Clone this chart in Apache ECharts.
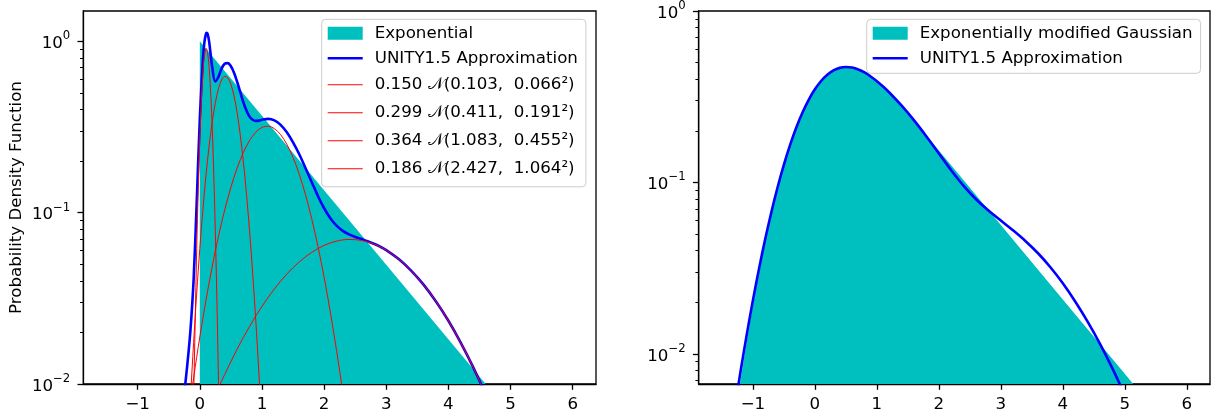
<!DOCTYPE html>
<html><head><meta charset="utf-8">
<script src="https://cdn.jsdelivr.net/npm/echarts@6/dist/echarts.min.js"></script>
<style>html,body{margin:0;padding:0;background:#fff}#c{width:1211px;height:413px}</style>
</head><body><div id="c"></div>
<script>
// ---------- tick labels ----------
const xTicks = [-1, 0, 1, 2, 3, 4, 5, 6];
const yMajorTicks = [0.01, 0.1, 1];
const yMinorLeft = [0.02,0.03,0.04,0.05,0.06,0.07,0.08,0.09,0.2,0.3,0.4,0.5,0.6,0.7,0.8,0.9];
const yMinorRight = [0.007,0.008,0.009,0.02,0.03,0.04,0.05,0.06,0.07,0.08,0.09,0.2,0.3,0.4,0.5,0.6,0.7,0.8,0.9];

// ---------- left panel ----------
const expX = [0, 4.6];
const expY = [1.0, 0.01];

const unityLX = [-0.3,-0.25,-0.2,-0.15,-0.1,-0.05,0,0.05,0.075,0.1,0.11,0.125,0.15,0.2,0.25,0.3,0.35,0.4,0.45,0.5,0.55,0.6,0.65,0.7,0.75,0.8,0.85,0.9,0.95,1.0,1.1,1.2,1.3,1.4,1.5,1.6,1.7,1.8,1.9,2.0,2.1,2.2,2.3,2.4,2.5,2.6,2.7,2.8,2.9,3.0,3.2,3.4,3.6,3.8,4.0,4.2,4.4,4.6,4.8];
const unityLY = [0.00637,0.00888,0.0131,0.0208,0.0405,0.115,0.354,0.791,0.995,1.109,1.121,1.103,0.995,0.703,0.582,0.620,0.692,0.738,0.745,0.714,0.655,0.580,0.506,0.441,0.394,0.363,0.348,0.343,0.344,0.348,0.352,0.345,0.325,0.294,0.257,0.219,0.182,0.151,0.125,0.106,0.0928,0.0839,0.0782,0.0746,0.0721,0.0701,0.0681,0.0658,0.0633,0.0604,0.0536,0.0459,0.0380,0.0303,0.0234,0.0174,0.0125,0.00867,0.0058];

const comp1X = [-0.12,-0.1,-0.05,-0.025,0,0.025,0.05,0.075,0.103,0.125,0.15,0.175,0.2,0.225,0.25,0.275,0.3,0.32];
const comp1Y = [0.00301,0.0080,0.0617,0.1383,0.2683,0.4510,0.6568,0.8287,0.9067,0.8577,0.7036,0.5001,0.3079,0.1643,0.0759,0.0304,0.01054,0.00408];

const comp2X = [-0.2,-0.15,-0.1,-0.05,0,0.05,0.1,0.15,0.2,0.25,0.3,0.35,0.4,0.45,0.5,0.55,0.6,0.65,0.7,0.75,0.8,0.85,0.9,0.95,1.0];
const comp2Y = [0.00375,0.00836,0.01743,0.03392,0.06167,0.1047,0.1659,0.2455,0.3392,0.4378,0.5275,0.5935,0.6235,0.6116,0.5603,0.4792,0.3828,0.2855,0.1988,0.1293,0.0785,0.0445,0.02356,0.01165,0.00538];

const comp3X = [-0.2,-0.1,0,0.1,0.2,0.3,0.4,0.5,0.6,0.7,0.8,0.9,1.0,1.1,1.2,1.3,1.4,1.5,1.6,1.7,1.8,1.9,2.0,2.1,2.2,2.3,2.4];
const comp3Y = [0.00599,0.01087,0.01879,0.03094,0.04855,0.07262,0.1035,0.1405,0.1817,0.2240,0.2631,0.2944,0.3139,0.3190,0.3088,0.2849,0.2504,0.2098,0.1674,0.1273,0.0922,0.0636,0.0419,0.02625,0.01568,0.00893,0.00484];

const comp4X = [0.2,0.3,0.4,0.6,0.8,1.0,1.2,1.4,1.6,1.8,2.0,2.2,2.4,2.6,2.8,3.0,3.2,3.4,3.6,3.8,4.0,4.2,4.4,4.6];
const comp4Y = [0.0078,0.00946,0.01136,0.01597,0.02167,0.02837,0.03587,0.04377,0.05156,0.05862,0.06434,0.06817,0.06972,0.06882,0.06558,0.06033,0.05356,0.04591,0.03798,0.03033,0.02338,0.0174,0.0125,0.00867];

// ---------- right panel ----------
const emgX = [-1.3,-1.2,-1.1,-1.0,-0.9,-0.8,-0.7,-0.6,-0.5,-0.4,-0.3,-0.2,-0.1,0,0.1,0.2,0.3,0.4,0.5,0.6,0.7,0.8,0.9,1.0,1.1,1.2,1.3,1.4,1.5,1.6,1.8,2.0,3.0,4.0,5.0,5.2];
const emgY = [0.00403,0.00702,0.01181,0.01913,0.0299,0.04506,0.06554,0.09201,0.1248,0.1636,0.2075,0.2547,0.3030,0.3496,0.3918,0.4269,0.4532,0.4693,0.4752,0.4714,0.4591,0.4401,0.4161,0.3890,0.3604,0.3315,0.3033,0.2764,0.2513,0.2280,0.1871,0.1533,0.05642,0.02075,0.00764,0.00625];

const unityRX = [-1.3,-1.2,-1.1,-1.0,-0.9,-0.8,-0.7,-0.6,-0.5,-0.4,-0.3,-0.2,-0.1,0,0.1,0.2,0.3,0.4,0.5,0.6,0.7,0.8,0.9,1.0,1.1,1.2,1.4,1.6,1.8,2.0,2.2,2.4,2.6,2.8,3.0,3.2,3.4,3.6,3.8,4.0,4.2,4.4,4.6,4.8,5.0];
const unityRY = [0.00467,0.00788,0.01291,0.02052,0.03158,0.04702,0.06771,0.09433,0.1271,0.1657,0.2092,0.2559,0.3034,0.3492,0.3904,0.4247,0.4502,0.4658,0.4714,0.4677,0.4559,0.4378,0.4151,0.3894,0.3623,0.3346,0.2803,0.2300,0.1853,0.1475,0.1177,0.0955,0.0798,0.0686,0.0599,0.0524,0.0454,0.0386,0.0320,0.0258,0.0202,0.0154,0.01144,0.00823,0.00576];

// ---------- labels ----------
const legendLeftNames = ['Exponential','UNITY1.5 Approximation',
  '0.150 \u{1D4A9}(0.103,  0.066\u00B2)','0.299 \u{1D4A9}(0.411,  0.191\u00B2)',
  '0.364 \u{1D4A9}(1.083,  0.455\u00B2)','0.186 \u{1D4A9}(2.427,  1.064\u00B2)'];
const legendRightNames = ['Exponentially modified Gaussian','UNITY1.5 Approximation'];
const yAxisTitle = 'Probability Density Function';

const FONT = 'DejaVu Sans';
const FS = 16.67;
const CYAN = '#00bfbf', BLUE = '#0000ff', RED = '#ff0000';
const ICON_BLUE = 'path://M0,0M35,13M0,5.2L35,5.2L35,7.8L0,7.8Z';
const ICON_RED = 'path://M0,0M35,13M0,6L35,6L35,7L0,7Z';
const zip = (xs, ys) => xs.map((x, i) => [x, ys[i]]);

function clipBelow(poly, b) {
  const out = [];
  for (let i = 0; i < poly.length; i++) {
    const p = poly[i], q = poly[(i + 1) % poly.length];
    const pin = p[1] <= b + 1e-6, qin = q[1] <= b + 1e-6;
    if (pin) out.push(p);
    if (pin !== qin) {
      const t = (b - p[1]) / (q[1] - p[1]);
      out.push([p[0] + t * (q[0] - p[0]), b]);
    }
  }
  return out;
}
function fillRenderer(xs, ys) {
  return function (params, api) {
    if (params.dataIndex !== 0) return;
    const cs = params.coordSys;
    const bottom = cs.y + cs.height;
    const pts = xs.map((x, i) => api.coord([x, ys[i]]));
    let poly = [[pts[0][0], bottom]].concat(pts, [[pts[pts.length - 1][0], bottom]]);
    poly = clipBelow(poly, bottom);
    return { type: 'polygon', shape: { points: poly }, style: { fill: CYAN }, silent: true };
  };
}

const axisLineStyle = { color: '#000', width: 1.3 };
function xAxis(gi) {
  return {
    type: 'value', gridIndex: gi, min: -1.875, max: 6.375, position: 'bottom',
    axisLine: { show: true, onZero: false, lineStyle: axisLineStyle },
    axisTick: { show: true, customValues: xTicks, length: 5.8, lineStyle: { color: '#000', width: 1.3 } },
    axisLabel: { customValues: xTicks, margin: 12, color: '#000', fontSize: FS, fontFamily: FONT,
      formatter: v => String(v).replace('-', '\u2212') },
    splitLine: { show: false }
  };
}
function yMajor(gi, min, max, extra) {
  return Object.assign({
    type: 'log', logBase: 10, gridIndex: gi, min: min, max: max, position: 'left',
    axisLine: { show: true, onZero: false, lineStyle: axisLineStyle },
    axisTick: { show: true, customValues: yMajorTicks, length: 5.8, lineStyle: { color: '#000', width: 1.3 } },
    axisLabel: { customValues: yMajorTicks, margin: 13, color: '#000', fontFamily: FONT,
      formatter: v => { const e = Math.round(Math.log10(v)); return '{b|10}{s|' + (e < 0 ? '\u2212' + (-e) : e) + '}'; },
      rich: { b: { fontSize: FS, fontFamily: FONT, color: '#000', lineHeight: 22, verticalAlign: 'bottom' },
              s: { fontSize: 11.7, fontFamily: FONT, color: '#000', lineHeight: 12, verticalAlign: 'top' } } },
    splitLine: { show: false }, minorTick: { show: false }
  }, extra || {});
}
function yMinor(gi, min, max, vals) {
  return {
    type: 'log', logBase: 10, gridIndex: gi, min: min, max: max, position: 'left', offset: 0,
    axisLine: { show: false, onZero: false },
    axisTick: { show: true, customValues: vals, length: 3.3, lineStyle: { color: '#000', width: 1 } },
    axisLabel: { show: false }, splitLine: { show: false }
  };
}
function lineSeries(name, xs, ys, xi, yi, color, width, z) {
  return { type: 'line', name: name, xAxisIndex: xi, yAxisIndex: yi, data: zip(xs, ys),
    showSymbol: false, symbol: 'none', smooth: 0.35, clip: true, z: z,
    lineStyle: { color: color, width: width }, itemStyle: { color: color } };
}

const legendText = { color: '#000', fontSize: FS, fontFamily: FONT, lineHeight: 20, padding: [0, 0, 0, 7],
  rich: { m: { fontSize: FS, fontFamily: FONT, color: '#000', lineHeight: 23 } } };

const option = {
  animation: false,
  backgroundColor: '#fff',
  grid: [
    { left: 83.3, top: 11, width: 512.7, height: 373.3, show: true, borderColor: '#000', borderWidth: 1.3, backgroundColor: 'transparent' },
    { left: 698.7, top: 11, width: 511.3, height: 373.3, show: true, borderColor: '#000', borderWidth: 1.3, backgroundColor: 'transparent' }
  ],
  xAxis: [xAxis(0), xAxis(1)],
  yAxis: [
    yMajor(0, 0.01, 1.5, { name: yAxisTitle, nameLocation: 'middle', nameGap: 58,
      nameTextStyle: { color: '#000', fontSize: FS, fontFamily: FONT } }),
    yMinor(0, 0.01, 1.5, yMinorLeft),
    yMajor(1, 1 / 150, 1),
    yMinor(1, 1 / 150, 1, yMinorRight)
  ],
  legend: [
    { orient: 'vertical', left: 321.7, top: 19.3, padding: [4, 8, 6.5, 6], itemGap: 5,
      itemWidth: 35, itemHeight: 13, backgroundColor: 'rgba(255,255,255,0.8)', borderColor: '#cccccc',
      borderWidth: 1, borderRadius: 4, textStyle: legendText, selectedMode: false,
      formatter: n => (n.indexOf('\u{1D4A9}') >= 0 ? '{m|' + n + '}' : n),
      data: [{ name: legendLeftNames[0], icon: 'rect' }, { name: legendLeftNames[1], icon: ICON_BLUE }]
        .concat(legendLeftNames.slice(2).map(n => ({ name: n, icon: ICON_RED }))) },
    { orient: 'vertical', left: 866.7, top: 19.3, padding: [4, 8, 5, 6], itemGap: 5,
      itemWidth: 35, itemHeight: 13, backgroundColor: 'rgba(255,255,255,0.8)', borderColor: '#cccccc',
      borderWidth: 1, borderRadius: 4, textStyle: legendText, selectedMode: false,
      data: [{ name: legendRightNames[0], icon: 'rect' }, { name: legendRightNames[1], icon: ICON_BLUE }] }
  ],
  series: [
    { type: 'custom', name: legendLeftNames[0], xAxisIndex: 0, yAxisIndex: 0, z: 1, clip: true,
      data: zip(expX, expY), renderItem: fillRenderer(expX, expY), itemStyle: { color: CYAN } },
    lineSeries(legendLeftNames[1], unityLX, unityLY, 0, 0, BLUE, 2.6, 3),
    lineSeries(legendLeftNames[2], comp1X, comp1Y, 0, 0, RED, 1, 4),
    lineSeries(legendLeftNames[3], comp2X, comp2Y, 0, 0, RED, 1, 4),
    lineSeries(legendLeftNames[4], comp3X, comp3Y, 0, 0, RED, 1, 4),
    lineSeries(legendLeftNames[5], comp4X, comp4Y, 0, 0, RED, 1, 4),
    { type: 'custom', name: legendRightNames[0], xAxisIndex: 1, yAxisIndex: 2, z: 1, clip: true,
      data: zip(emgX, emgY), renderItem: fillRenderer(emgX, emgY), itemStyle: { color: CYAN } },
    lineSeries(legendRightNames[1], unityRX, unityRY, 1, 2, BLUE, 2.6, 3)
  ]
};
const chart = echarts.init(document.getElementById('c'), null, { renderer: 'canvas' });
chart.setOption(option);
</script></body></html>
